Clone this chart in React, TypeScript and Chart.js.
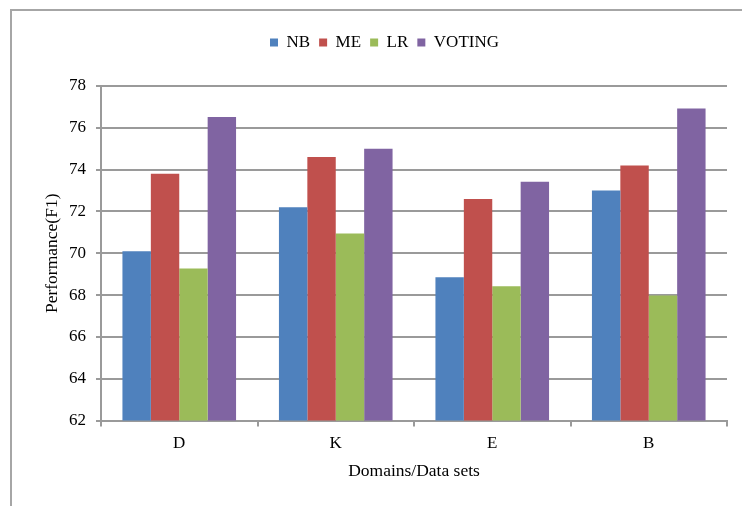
import React, { useEffect, useRef } from "react";
import { Chart, registerables } from "chart.js";

Chart.register(...registerables);

const categories = ["D", "K", "E", "B"];
const seriesNames = ["NB", "ME", "LR", "VOTING"];
const nbValues = [70.1, 72.2, 68.85, 73.0];
const meValues = [73.8, 74.6, 72.6, 74.2];
const lrValues = [69.27, 70.95, 68.42, 67.98];
const votingValues = [76.52, 75.0, 73.42, 76.92];
const seriesColors = ["#4F81BD", "#C0504D", "#9BBB59", "#8064A2"];
const yMin = 62;
const yMax = 78;
const yStep = 2;
const xTitle = "Domains/Data sets";
const yTitle = "Performance(F1)";

const FONT = "'Liberation Serif', 'Times New Roman', serif";
const GRID = "#9a9a9a";

export default function App() {
  const ref = useRef<HTMLCanvasElement | null>(null);

  useEffect(() => {
    if (!ref.current) return;
    const values = [nbValues, meValues, lrValues, votingValues];
    const legendSpacer = {
      id: "legendSpacer",
      beforeInit(chart: any) {
        const legend = chart.legend;
        if (!legend) return;
        const orig = legend.fit;
        legend.fit = function () {
          orig.call(this);
          this.height += 25;
        };
      },
    };
    const chart = new Chart(ref.current, {
      type: "bar",
      data: {
        labels: categories,
        datasets: seriesNames.map((name, i) => ({
          label: name,
          data: values[i],
          backgroundColor: seriesColors[i],
          borderWidth: 0,
          categoryPercentage: 0.726,
          barPercentage: 1.0,
        })),
      },
      options: {
        responsive: false,
        animation: false,
        devicePixelRatio: 1,
        layout: { padding: { left: 42, right: 15, top: 25, bottom: 24 } },
        plugins: {
          tooltip: { enabled: false },
          legend: {
            position: "top",
            labels: {
              boxWidth: 8,
              boxHeight: 8,
              padding: 9,
              color: "#000",
              font: { family: FONT, size: 17 },
            },
          },
        },
        scales: {
          x: {
            offset: true,
            grid: {
              offset: true,
              drawOnChartArea: false,
              drawTicks: true,
              tickLength: 6,
              color: GRID,
              lineWidth: 2,
            },
            border: { display: true, color: GRID, width: 2 },
            ticks: {
              color: "#000",
              padding: 7,
              font: { family: FONT, size: 17 },
            },
            title: {
              display: true,
              text: xTitle,
              color: "#000",
              font: { family: FONT, size: 17.5 },
              padding: { top: 0, bottom: 0 },
            },
          },
          y: {
            min: yMin,
            max: yMax,
            ticks: {
              stepSize: yStep,
              color: "#000",
              padding: 10,
              font: { family: FONT, size: 17 },
            },
            grid: {
              color: GRID,
              lineWidth: 2,
              drawTicks: true,
              tickLength: 5,
            },
            border: { display: true, color: GRID, width: 2 },
            title: {
              display: true,
              text: yTitle,
              color: "#000",
              font: { family: FONT, size: 17.5 },
              padding: { top: 0, bottom: -4 },
            },
          },
        },
      },
      plugins: [legendSpacer],
    });
    return () => chart.destroy();
  }, []);

  return (
    <div
      style={{
        position: "fixed",
        left: 0,
        top: 0,
        width: 742,
        height: 506,
        overflow: "hidden",
        background: "#fff",
      }}
    >
      <div
        style={{
          position: "absolute",
          left: 10,
          top: 9,
          width: 900,
          height: 700,
          borderLeft: "2px solid #a6a6a6",
          borderTop: "2px solid #a6a6a6",
        }}
      />
      <canvas
        ref={ref}
        width={742}
        height={506}
        style={{ position: "absolute", left: 0, top: 0, width: 742, height: 506 }}
      />
    </div>
  );
}
